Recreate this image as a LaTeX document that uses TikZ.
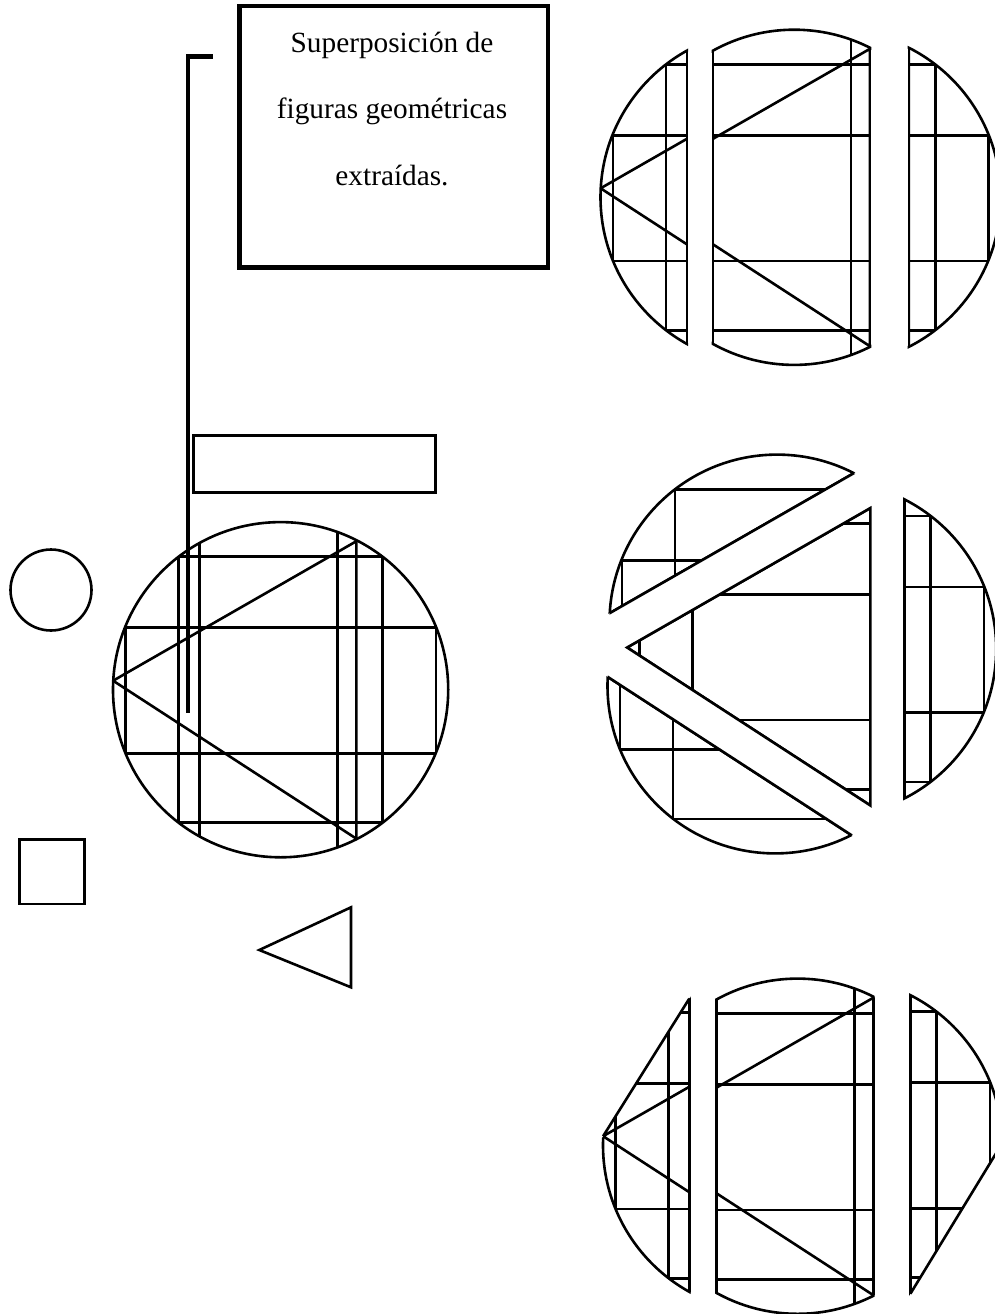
\documentclass[tikz,border=0pt]{standalone}
\usepackage{fontspec}
\setmainfont{Liberation Serif}
\newcommand\figbase{%
  \draw (-155,-62) rectangle (155.4,63.6);
  \draw (-102.3,-133) rectangle (102.1,133);
  \draw (-167.5,-9) -- (75.8,-148.5) -- (75.8,149) -- cycle;}
\newcommand\figchords{%
  \draw (-81.3,-200) -- (-81.3,200);
  \draw (56.7,-200) -- (56.7,200);}
\newcommand\rclip{\clip (0,0) circle (167.6pt);}
% #1 x, #2 y, #3 strip left, #4 strip right, #5 extra content, #6 extra clip, #7 extra outline
\newcommand\piece[7]{%
\begin{scope}[shift={(#1,#2)}]
  \begin{scope}\rclip #6 \clip (#3,-200) rectangle (#4,200); \figbase #5 \end{scope}
  \begin{scope}\rclip #6 \draw (#3,-200) -- (#3,200); \draw (#4,-200) -- (#4,200); \end{scope}
  \begin{scope}#6 \clip (#3-1.3,-200) rectangle (#4+1.3,200); \draw (0,0) circle (167.6pt); \end{scope}
  #7
\end{scope}}
\begin{document}
\begin{tikzpicture}[x=1pt,y=-1pt,line width=2.6pt,
  boxst/.style={draw,line width=4.6pt,minimum width=308.8pt,minimum height=261pt,inner sep=0pt,outer sep=0pt},
  txt/.style={font=\fontsize{29.3}{35}\selectfont,anchor=base,inner sep=0pt},
  conn/.style={line width=4.6pt}]
\fill[white] (0,0) rectangle (995,1314);
\useasboundingbox (0,0) rectangle (995,1314);

% small shapes
\draw (51,590) circle (40.5pt);
\draw (193.3,435.7) rectangle (435.7,492.7);
\draw (19.3,839.3) rectangle (84.3,904);
\draw (259.3,950) -- (351,907.3) -- (351,987.3) -- cycle;

% main superposition
\begin{scope}[shift={(280.6,689.7)}]
  \begin{scope}\rclip \figbase \figchords \end{scope}
  \draw (0,0) circle (167.6pt);
\end{scope}

% top-right figure
\piece{768.1}{197.3}{-200}{-81.3}{\figchords}{}{}
\piece{794.2}{197.3}{-81.3}{75.8}{\figchords}{}{}
\piece{833.1}{197.3}{75.8}{200}{\figchords}{}{}

% middle-right figure
\piece{777.1}{622.2}{-200}{200}{}{\clip (-410.8,130.5) -- (319.1,-288) -- (319.1,-888) -- (-410.8,-469.5) -- cycle;}{\begin{scope}\rclip\draw (-410.8,130.5) -- (319.1,-288);\end{scope}}
\piece{775.1}{685.8}{-200}{200}{}{\clip (-410.8,-167) -- (319.1,307) -- (319.1,907) -- (-410.8,433) -- cycle;}{\begin{scope}\rclip\draw (-410.8,-167) -- (319.1,307);\end{scope}}
\begin{scope}[shift={(794.6,656.5)}]
  \begin{scope}\clip (-167.5,-9) -- (75.8,-148.5) -- (75.8,149) -- cycle; \figbase \end{scope}
  \draw (-167.5,-9) -- (75.8,-148.5) -- (75.8,149) -- cycle;
\end{scope}
\piece{828.6}{648.9}{75.8}{200}{}{}{}

% bottom-right figure
\piece{770.6}{1145.2}{-200}{-81.3}{\figchords}{\clip (-339.9,266.2) -- (91.1,-421.8) -- (514.8,-156.4) -- (83.8,531.6) -- cycle;}{\draw (-167.5,-9) -- (-81.3,-146.6);}
\piece{797.6}{1146.2}{-81.3}{75.8}{\figchords}{}{}
\piece{834.6}{1144.7}{75.8}{200}{\figchords}{\clip (-107.8,450) -- (351.2,-302.5) -- (-75.6,-562.9) -- (-534.6,189.6) -- cycle;}{\draw (75.8,149) -- (167.6,-1.5);}

% text box and connector
\node[boxst] (box) at (393.6,136.7) {};
\node[txt] (t1) at (392,52.5) {Superposición de};
\node[txt] (t2) at (392,118.5) {figuras geométricas};
\node[txt] (t3) at (392,185) {extraídas.};
\coordinate (cstart) at (212.7,56.5);
\coordinate (cend) at (188,713.3);
\draw[conn] (cstart) -- (cstart -| cend) -- (cend);
\end{tikzpicture}
\end{document}
